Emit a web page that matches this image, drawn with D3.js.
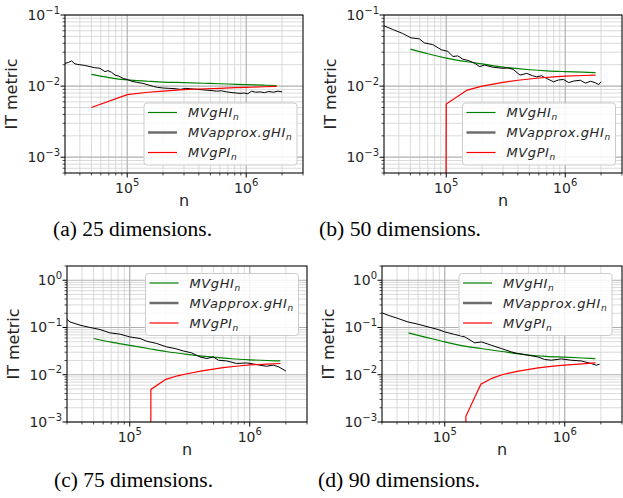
<!DOCTYPE html>
<html><head><meta charset="utf-8">
<script src="https://cdn.jsdelivr.net/npm/d3@7"></script>
<style>body{margin:0;background:#fff}svg{display:block}</style>
</head><body><svg id="c" width="623" height="498"></svg>
<script>
// ---------- data ----------
const seriesNames = ["MVgHI", "MVapprox.gHI", "MVgPI"];
const captions = ["(a) 25 dimensions.", "(b) 50 dimensions.", "(c) 75 dimensions.", "(d) 90 dimensions."];
const xDomain = [3e4, 3e6];
const yDomainTop = [6e-4, 1e-1];
const yDomainBottom = [1e-3, 2];

const nSmooth = [5e4, 7e4, 1e5, 1.5e5, 2e5, 3e5, 5e5, 7e5, 1e6, 1.4e6, 1.8e6];
const nRedAB = [5e4, 1e5, 1.5e5, 2e5, 3e5, 4e5, 6e5, 8e5, 1e6, 1.4e6, 1.8e6];
const nRedCD = [5e4, 1e5, 1.5e5, 2e5, 2.5e5, 3e5, 4e5, 6e5, 8e5, 1e6, 1.4e6, 1.8e6];

const greenA = [0.0146, 0.0132, 0.0122, 0.0117, 0.0114, 0.0112, 0.0109, 0.0107, 0.0105, 0.0103, 0.0102];
const greenB = [0.0332, 0.0285, 0.0248, 0.0220, 0.0205, 0.0185, 0.0170, 0.0164, 0.0160, 0.0157, 0.0155];
const greenC = [0.0585, 0.049, 0.042, 0.035, 0.031, 0.027, 0.0235, 0.0218, 0.0207, 0.0200, 0.0196];
const greenD = [0.0769, 0.062, 0.0496, 0.040, 0.0359, 0.031, 0.0262, 0.0245, 0.0235, 0.0226, 0.0220];

const redA = [0.0050, 0.0076, 0.0082, 0.0085, 0.0089, 0.0091, 0.0093, 0.0095, 0.0096, 0.0098, 0.0099];
const redB = [0, 0.0056, 0.0088, 0.0100, 0.0113, 0.0121, 0.0130, 0.0135, 0.0138, 0.0141, 0.0143];
const redC = [0, 0, 0.0049, 0.0080, 0.0095, 0.0105, 0.0121, 0.0141, 0.0153, 0.0161, 0.0168, 0.0173];
const redD = [0, 0, 0.00132, 0.0063, 0.0085, 0.0100, 0.0118, 0.0140, 0.0152, 0.0160, 0.0170, 0.0178];

const blackNA = [3.0e4, 3.2e4, 3.41e4, 3.64e4, 4.0e4, 4.4e4, 4.87e4, 5.3e4, 5.9e4, 6.5e4, 6.9e4, 7.4e4, 7.9e4, 8.5e4, 9.27e4, 1.0e5, 1.09e5, 1.2e5, 1.36e5, 1.5e5, 1.66e5, 1.8e5, 2.01e5, 2.25e5, 2.52e5, 2.8e5, 3.1e5, 3.59e5, 4.2e5, 4.96e5, 5.6e5, 6.2e5, 6.85e5, 7.6e5, 8.87e5, 9.6e5, 1.03e6, 1.11e6, 1.2e6, 1.31e6, 1.42e6, 1.55e6, 1.69e6, 1.85e6, 2.0e6];
const blackVA = [0.0209, 0.0215, 0.0226, 0.0205, 0.0200, 0.0195, 0.0188, 0.0182, 0.0178, 0.0160, 0.0165, 0.0156, 0.0143, 0.0138, 0.0128, 0.0124, 0.0117, 0.0113, 0.0109, 0.0104, 0.0099, 0.0096, 0.0094, 0.0093, 0.0092, 0.0090, 0.0093, 0.0091, 0.0089, 0.0087, 0.0085, 0.0086, 0.0083, 0.0081, 0.0079, 0.0080, 0.0078, 0.0085, 0.0082, 0.0083, 0.0081, 0.0084, 0.0082, 0.0085, 0.0083];

const blackNB = [3.0e4, 3.54e4, 4.3e4, 5.06e4, 5.94e4, 6.56e4, 7.71e4, 9.08e4, 1.03e5, 1.14e5, 1.25e5, 1.38e5, 1.55e5, 1.73e5, 1.91e5, 2.1e5, 2.48e5, 3.01e5, 3.3e5, 3.65e5, 4.17e5, 4.75e5, 5.3e5, 5.77e5, 6.3e5, 7.0e5, 7.97e5, 8.8e5, 9.68e5, 1.07e6, 1.18e6, 1.34e6, 1.48e6, 1.63e6, 1.78e6, 1.91e6, 2.0e6];
const blackVB = [0.0705, 0.0627, 0.0550, 0.0477, 0.0462, 0.0405, 0.0383, 0.0325, 0.0308, 0.0261, 0.0266, 0.0239, 0.0228, 0.0210, 0.0188, 0.0198, 0.0184, 0.0178, 0.0180, 0.0172, 0.0143, 0.0151, 0.0140, 0.0135, 0.0140, 0.0128, 0.0115, 0.0122, 0.0124, 0.0112, 0.0118, 0.0121, 0.0110, 0.0117, 0.0112, 0.0105, 0.0115];

const blackNC = [3.0e4, 3.18e4, 3.85e4, 4.66e4, 5.65e4, 6.84e4, 8.3e4, 1.0e5, 1.22e5, 1.38e5, 1.68e5, 2.03e5, 2.38e5, 2.79e5, 3.28e5, 3.85e5, 4.38e5, 4.97e5, 5.47e5, 6.43e5, 7.78e5, 9.44e5, 1.14e6, 1.38e6, 1.57e6, 1.75e6, 2.0e6];
const blackVC = [0.148, 0.131, 0.112, 0.100, 0.0907, 0.0769, 0.0722, 0.0632, 0.0585, 0.0513, 0.0458, 0.0388, 0.0359, 0.0319, 0.0290, 0.0238, 0.0220, 0.0238, 0.0203, 0.0196, 0.0173, 0.0178, 0.0164, 0.0151, 0.0160, 0.0146, 0.0120];

const blackND = [3.0e4, 3.37e4, 4.08e4, 4.94e4, 5.98e4, 7.25e4, 8.79e4, 1.0e5, 1.21e5, 1.47e5, 1.78e5, 2.02e5, 2.44e5, 2.96e5, 3.59e5, 4.08e5, 4.94e5, 5.98e5, 6.8e5, 7.73e5, 9.35e5, 1.13e6, 1.37e6, 1.66e6, 1.83e6, 1.95e6];
const blackVD = [0.204, 0.182, 0.155, 0.131, 0.1175, 0.103, 0.0907, 0.0807, 0.0711, 0.0632, 0.0472, 0.0496, 0.0422, 0.0359, 0.0304, 0.0281, 0.0259, 0.0238, 0.0210, 0.0203, 0.0216, 0.0203, 0.0196, 0.0173, 0.0159, 0.0167];

// ---------- layout ----------
const panels = [
  {box:{l:65, r:303, t:15, b:173}, yDomain:yDomainTop, green:greenA, red:redA, nRed:nRedAB, bn:blackNA, bv:blackVA, legend:[144,103], cap:[132.5,236,159], cap_i:0},
  {box:{l:384, r:622, t:15, b:173}, yDomain:yDomainTop, green:greenB, red:redB, nRed:nRedAB, bn:blackNB, bv:blackVB, legend:[462.5,103], cap:[400,236,162], cap_i:1},
  {box:{l:67, r:307, t:266, b:422}, yDomain:yDomainBottom, green:greenC, red:redC, nRed:nRedCD, bn:blackNC, bv:blackVC, legend:[145.5,273.5], cap:[133.5,487,159], cap_i:2},
  {box:{l:382, r:622, t:266, b:422}, yDomain:yDomainBottom, green:greenD, red:redD, nRed:nRedCD, bn:blackND, bv:blackVD, legend:[459,273.5], cap:[399,487,162], cap_i:3}
];
const colors = ["#008000", "#000000", "#ff0000"];
const sans = "DejaVu Sans";
const svg = d3.select("#c");
const isMajor = v => Math.abs(Math.log10(v) - Math.round(Math.log10(v))) < 1e-6;
const supMinus = k => (k < 0 ? "\u2212" + (-k) : "" + k);

panels.forEach((p, i) => {
  const {l, r, t, b} = p.box;
  const x = d3.scaleLog().domain(xDomain).range([l, r]);
  const y = d3.scaleLog().domain(p.yDomain).range([b, t]);
  const g = svg.append("g");
  const clipId = "clip" + i;
  g.append("clipPath").attr("id", clipId).append("rect")
    .attr("x", l).attr("y", t).attr("width", r - l).attr("height", b - t);

  const xt = x.ticks(), yt = y.ticks();
  const grid = g.append("g");
  [false, true].forEach(maj => {
    xt.filter(v => isMajor(v) === maj).forEach(v => {
      grid.append("line").attr("x1", x(v)).attr("x2", x(v)).attr("y1", t).attr("y2", b)
        .attr("stroke", maj ? "#b0b0b0" : "#d0d0d0").attr("stroke-width", maj ? 1.2 : 0.8);
    });
    yt.filter(v => isMajor(v) === maj).forEach(v => {
      grid.append("line").attr("x1", l).attr("x2", r).attr("y1", y(v)).attr("y2", y(v))
        .attr("stroke", maj ? "#b0b0b0" : "#d0d0d0").attr("stroke-width", maj ? 1.2 : 0.8);
    });
  });

  const lines = g.append("g").attr("clip-path", `url(#${clipId})`);
  const lineSmooth = d3.line().x(d => x(d[0])).y(d => y(Math.max(d[1], 1e-300))).curve(d3.curveMonotoneX);
  const lineLin = d3.line().x(d => x(d[0])).y(d => y(Math.max(d[1], 1e-300)));
  lines.append("path").datum(nSmooth.map((n, k) => [n, p.green[k]]))
    .attr("d", lineSmooth).attr("fill", "none").attr("stroke", colors[0]).attr("stroke-width", 1.2);
  lines.append("path").datum(p.bn.map((n, k) => [n, p.bv[k]]))
    .attr("d", lineLin).attr("fill", "none").attr("stroke", colors[1]).attr("stroke-width", 1);
  lines.append("path").datum(p.nRed.map((n, k) => [n, p.red[k]]))
    .attr("d", lineLin).attr("fill", "none").attr("stroke", colors[2]).attr("stroke-width", 1.2);

  g.append("rect").attr("x", l).attr("y", t).attr("width", r - l).attr("height", b - t)
    .attr("fill", "none").attr("stroke", "#000").attr("stroke-width", 1);

  xt.forEach(v => {
    const maj = isMajor(v);
    g.append("line").attr("x1", x(v)).attr("x2", x(v)).attr("y1", b).attr("y2", b + (maj ? 4.5 : 2.5))
      .attr("stroke", "#000").attr("stroke-width", maj ? 1 : 0.7);
    if (maj) {
      const k = Math.round(Math.log10(v));
      const tx = g.append("text").attr("x", x(v)).attr("y", b + 19.5).attr("text-anchor", "middle")
        .attr("font-family", sans).attr("font-size", 14).attr("fill", "#262626");
      tx.append("tspan").text("10");
      tx.append("tspan").attr("dy", -6.5).attr("font-size", 10).text(supMinus(k));
    }
  });
  yt.forEach(v => {
    const maj = isMajor(v);
    g.append("line").attr("x1", l).attr("x2", l - (maj ? 4.5 : 2.5)).attr("y1", y(v)).attr("y2", y(v))
      .attr("stroke", "#000").attr("stroke-width", maj ? 1 : 0.7);
    if (maj) {
      const k = Math.round(Math.log10(v));
      const tx = g.append("text").attr("x", l - 5).attr("y", y(v) + 5).attr("text-anchor", "end")
        .attr("font-family", sans).attr("font-size", 14).attr("fill", "#262626");
      tx.append("tspan").text("10");
      tx.append("tspan").attr("dy", -6.5).attr("font-size", 10).text(supMinus(k));
    }
  });

  g.append("text").attr("transform", `translate(${l - 48},${(t + b) / 2}) rotate(-90)`)
    .attr("text-anchor", "middle").attr("font-family", sans).attr("font-size", 16).attr("fill", "#262626")
    .text("IT metric");
  g.append("text").attr("x", (l + r) / 2).attr("y", b + 33).attr("text-anchor", "middle")
    .attr("font-family", sans).attr("font-size", 16).attr("fill", "#262626").text("n");

  const [lx, ly] = p.legend;
  const lg = g.append("g");
  lg.append("rect").attr("x", lx).attr("y", ly).attr("width", 153).attr("height", 62).attr("rx", 3)
    .attr("fill", "#fff").attr("fill-opacity", 0.85).attr("stroke", "#cccccc").attr("stroke-width", 1);
  seriesNames.forEach((name, k) => {
    const ry = ly + 9.5 + k * 20;
    lg.append("line").attr("x1", lx + 4).attr("x2", lx + 33).attr("y1", ry).attr("y2", ry)
      .attr("stroke", k === 1 ? "#6e6e6e" : colors[k]).attr("stroke-width", k === 1 ? 2.5 : 1.2);
    const tx = lg.append("text").attr("x", lx + 44).attr("y", ry + 4.5)
      .attr("font-family", sans).attr("font-style", "italic").attr("font-size", 13)
      .attr("letter-spacing", 0.6).attr("fill", "#262626");
    tx.append("tspan").text(name);
    tx.append("tspan").attr("dy", 3).attr("font-size", 9).text("n");
  });

  svg.append("text").attr("x", p.cap[0]).attr("y", p.cap[1]).attr("text-anchor", "middle")
    .attr("font-family", "Liberation Serif").attr("font-size", 20).attr("fill", "#000")
    .attr("textLength", p.cap[2]).attr("lengthAdjust", "spacingAndGlyphs")
    .text(captions[p.cap_i]);
});
</script>
</body></html>
